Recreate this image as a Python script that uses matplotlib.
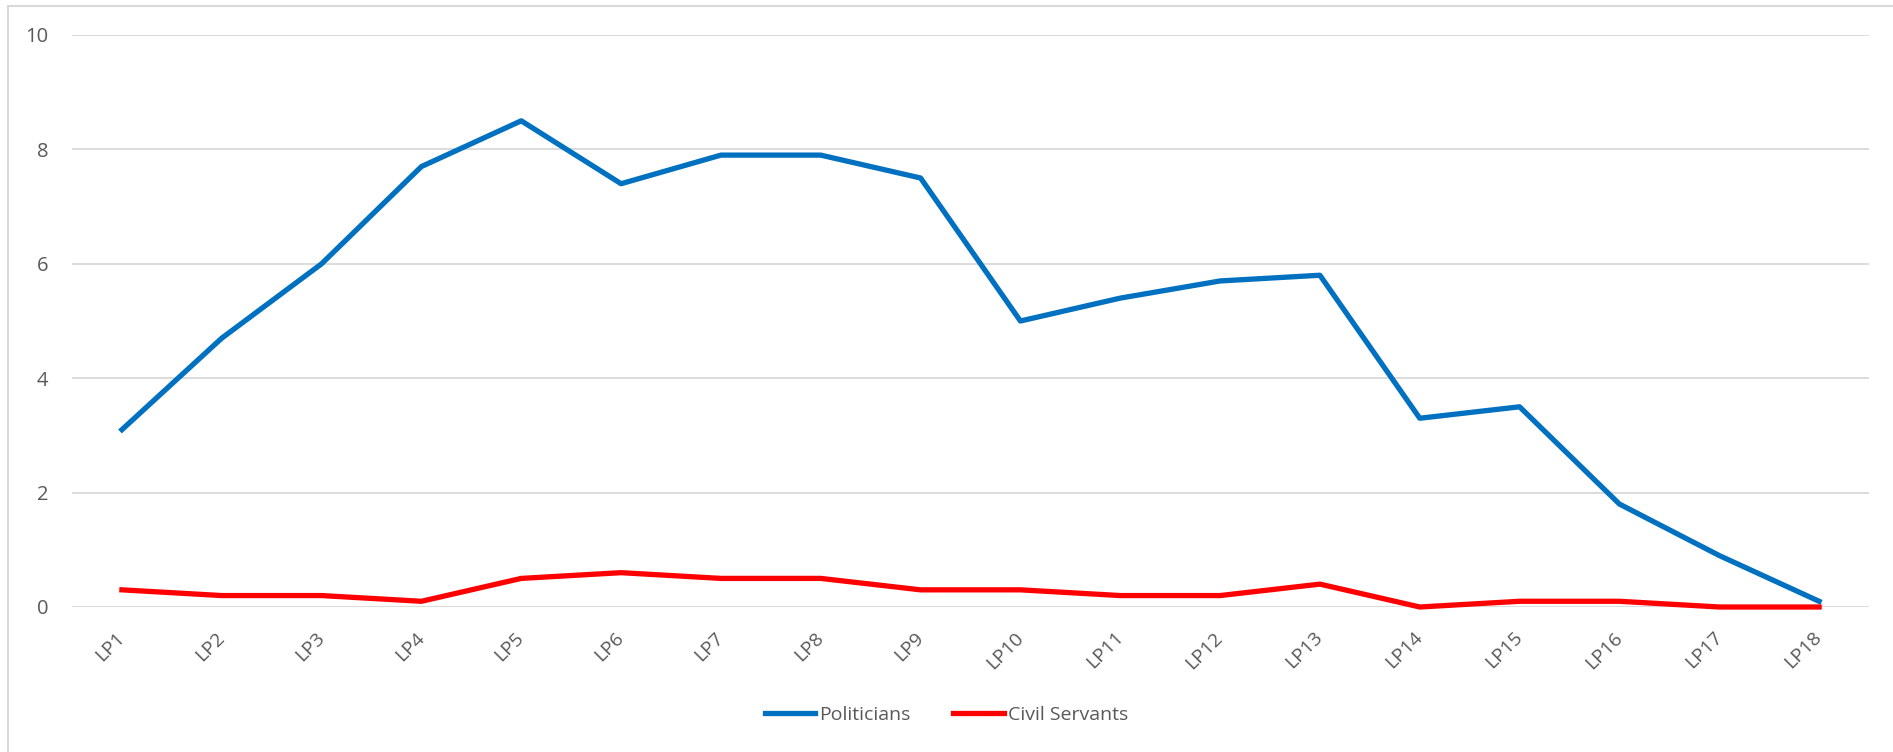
import matplotlib
matplotlib.use('Agg')
import matplotlib.pyplot as plt
from matplotlib.lines import Line2D

# legislative periods
periods = ['LP%d' % i for i in range(1, 19)]
politicians = [3.1, 4.7, 6.0, 7.7, 8.5, 7.4, 7.9, 7.9, 7.5, 5.0, 5.4, 5.7, 5.8, 3.3, 3.5, 1.8, 0.9, 0.1]
civil_servants = [0.3, 0.2, 0.2, 0.1, 0.5, 0.6, 0.5, 0.5, 0.3, 0.3, 0.2, 0.2, 0.4, 0.0, 0.1, 0.1, 0.0, 0.0]
y_ticks = [0, 2, 4, 6, 8, 10]

plt.rcParams['font.family'] = ['Open Sans', 'DejaVu Sans']
text_color = '#595959'

fig = plt.figure(figsize=(18.93, 7.52), dpi=100)
ax = fig.add_axes([72 / 1893, 1 - 607 / 752, (1869 - 72) / 1893, (607 - 35) / 752])

x = list(range(len(periods)))
ax.plot(x, politicians, color='#0070C0', lw=3.8, label='Politicians', clip_on=False)
ax.plot(x, civil_servants, color='#FF0000', lw=3.8, label='Civil Servants', clip_on=False)

ax.set_xlim(-0.5, len(periods) - 0.5)
ax.set_ylim(0, 10)
ax.set_yticks(y_ticks)
ax.set_xticks(x)
ax.set_xticklabels(periods, rotation=45, ha='right', va='center', rotation_mode='anchor')
ax.tick_params(axis='x', length=0, pad=20, labelsize=14, colors=text_color)
ax.tick_params(axis='y', length=0, pad=17, labelsize=14.5, colors=text_color)

ax.grid(axis='y', color='#D9D9D9', lw=1.3)
ax.set_axisbelow(True)
for s in ax.spines.values():
    s.set_visible(False)

leg = fig.legend(loc='center', bbox_to_anchor=(0.5, 1 - 715 / 752), ncol=2, frameon=False,
                 fontsize=14, handlelength=2.6, handletextpad=0.2, columnspacing=2.2)
for t in leg.get_texts():
    t.set_color(text_color)

# chart area border (top and left visible)
fig.add_artist(Line2D([8 / 1893, 1], [1 - 6 / 752, 1 - 6 / 752], transform=fig.transFigure, color='#D9D9D9', lw=1.5))
fig.add_artist(Line2D([8 / 1893, 8 / 1893], [0, 1 - 6 / 752], transform=fig.transFigure, color='#D9D9D9', lw=1.5))

fig.savefig('out.png', dpi=100, facecolor='white')
